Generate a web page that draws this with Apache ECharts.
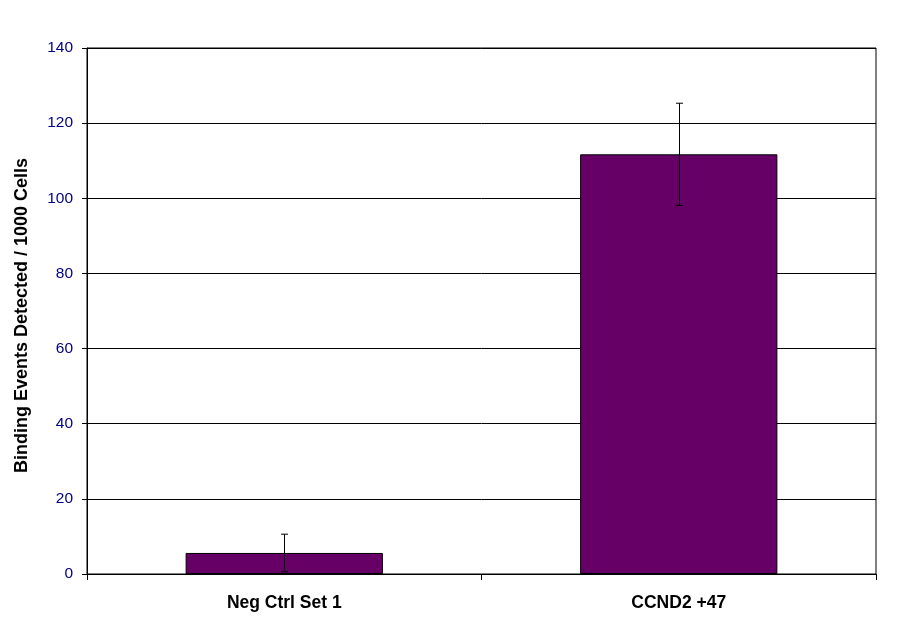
<!DOCTYPE html>
<html>
<head>
<meta charset="utf-8">
<script src="https://cdn.jsdelivr.net/npm/echarts@6/dist/echarts.min.js"></script>
<style>html,body{margin:0;padding:0;background:#fff;}#chart{width:911px;height:623px;}</style>
</head>
<body>
<div id="chart"></div>
<script>
var categories = ['Neg Ctrl Set 1', 'CCND2 +47'];
var values = [5.6, 111.7];
var errors = [5.0, 13.6];
var yTicks = [0, 20, 40, 60, 80, 100, 120, 140];

var chart = echarts.init(document.getElementById('chart'));
chart.setOption({
  animation: false,
  backgroundColor: '#ffffff',
  grid: { left: 87, right: 35, top: 48, bottom: 49, show: true, borderColor: '#000', borderWidth: 1, backgroundColor: 'transparent' },
  xAxis: {
    type: 'category',
    data: categories,
    axisLine: { lineStyle: { color: '#000', width: 1 } },
    axisTick: { show: true, length: 6, lineStyle: { color: '#000' } },
    axisLabel: { color: '#000', fontFamily: 'Liberation Sans, Arial', fontWeight: 'bold', fontSize: 17.5, margin: 20 }
  },
  yAxis: {
    type: 'value',
    min: yTicks[0],
    max: yTicks[yTicks.length - 1],
    interval: 20,
    name: 'Binding Events Detected / 1000 Cells',
    nameLocation: 'middle',
    nameGap: 56,
    nameTextStyle: { color: '#000', fontFamily: 'Liberation Sans, Arial', fontWeight: 'bold', fontSize: 18, padding: [0, 9, 0, 0] },
    axisLine: { show: true, lineStyle: { color: '#000', width: 1 } },
    axisTick: { show: true, length: 5, lineStyle: { color: '#000' } },
    axisLabel: { color: '#000080', fontFamily: 'Liberation Sans, Arial', fontSize: 15.5, margin: 14 },
    splitLine: { show: true, lineStyle: { color: '#000', width: 1 } }
  },
  series: [
    {
      type: 'bar',
      data: values,
      barCategoryGap: '50%',
      itemStyle: { color: '#660066', borderColor: '#000', borderWidth: 1 }
    },
    {
      type: 'custom',
      data: values.map(function (v, i) { return [i, v - errors[i], v + errors[i]]; }),
      renderItem: function (params, api) {
        var lo = api.coord([api.value(0), api.value(1)]);
        var hi = api.coord([api.value(0), api.value(2)]);
        var x = Math.round(lo[0]) + 0.5;
        var hw = 3.5;
        var style = { stroke: '#000', lineWidth: 1 };
        return {
          type: 'group',
          children: [
            { type: 'line', shape: { x1: x, y1: hi[1], x2: x, y2: lo[1] }, style: style },
            { type: 'line', shape: { x1: x - hw, y1: hi[1], x2: x + hw, y2: hi[1] }, style: style },
            { type: 'line', shape: { x1: x - hw, y1: lo[1], x2: x + hw, y2: lo[1] }, style: style }
          ]
        };
      },
      z: 10
    }
  ]
});
</script>
</body>
</html>
